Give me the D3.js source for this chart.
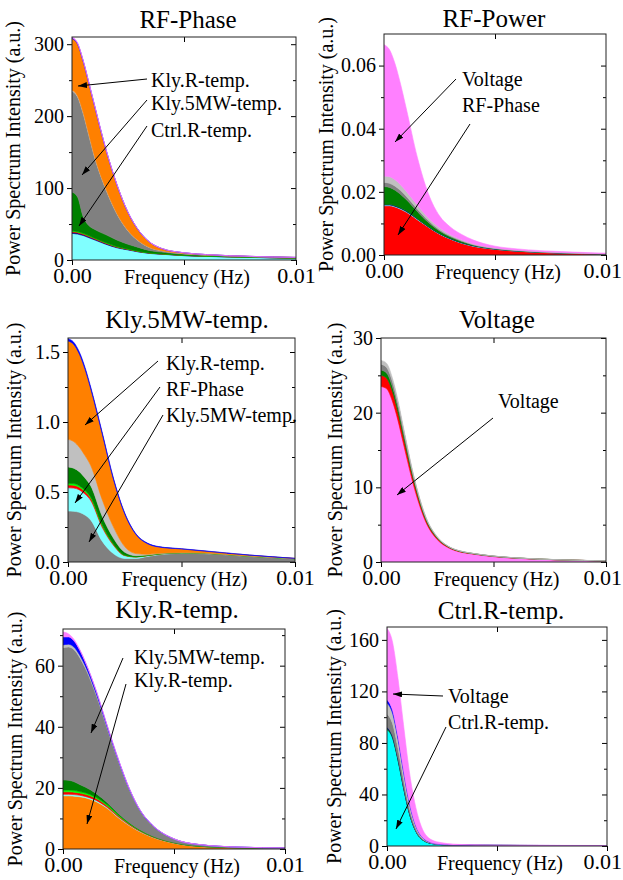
<!DOCTYPE html>
<html>
<head>
<meta charset="utf-8">
<script src="https://cdn.jsdelivr.net/npm/d3@7"></script>
<style>
body { margin: 0; background: #fff; }
text { font-family: "Liberation Serif", "Times New Roman", serif; fill: #000; }
</style>
</head>
<body>
<svg id="chart" width="623" height="880"></svg>
<script>
// frequency grid (Hz) shared by all spectra
const freq = [0, 0.00025, 0.0005, 0.00075, 0.001, 0.0015, 0.002, 0.0025, 0.003, 0.0035, 0.004, 0.005, 0.006, 0.008, 0.01];
const xTickLabels = ["0.00", "0.01"];

// RF-Phase spectrum, contributions stacked bottom -> top
const rfPhaseKeys = ["cyan", "navy", "red", "lime", "green", "gray", "silver", "orange", "blue", "pink"];
const rfPhaseLayers = [
  [37, 36, 34, 31, 28, 22, 17, 14, 11, 9, 8, 6, 5, 3.5, 2.5],
  [1.5, 1.5, 1.4, 1.3, 1.2, 1.0, 0.8, 0.6, 0.5, 0.4, 0.3, 0.25, 0.2, 0.15, 0.1],
  [1.2, 1.2, 1.1, 1.0, 0.9, 0.8, 0.6, 0.5, 0.4, 0.3, 0.25, 0.2, 0.15, 0.1, 0.1],
  [0.8, 0.8, 0.7, 0.7, 0.6, 0.5, 0.4, 0.3, 0.3, 0.2, 0.2, 0.15, 0.1, 0.1, 0.05],
  [54, 48, 23, 14, 12, 11, 9, 6.5, 5, 3, 2.2, 1.4, 1, 0.6, 0.4],
  [140, 139, 143.3, 125.7, 101.1, 63.7, 36.4, 18.5, 8.4, 3.8, 1.85, 0.9, 0.5, 0.3, 0.2],
  [1.5, 1.5, 1.5, 1.3, 1.2, 1, 0.8, 0.6, 0.4, 0.3, 0.2, 0.1, 0.05, 0.05, 0.05],
  [72, 72, 71, 71, 70, 55, 40, 25, 14, 7, 3, 1, 0.5, 0.2, 0.2],
  [1, 1, 0.9, 0.8, 0.7, 0.5, 0.35, 0.25, 0.15, 0.1, 0.08, 0.05, 0.04, 0.03, 0.02],
  [1, 0.8, 0.6, 0.5, 0.4, 0.3, 0.2, 0.15, 0.1, 0.08, 0.06, 0.05, 0.04, 0.03, 0.02]
];

// RF-Power
const rfPowerKeys = ["red", "cyan", "navy", "green", "gray", "silver", "pink"];
const rfPowerLayers = [
  [0.0156, 0.0156, 0.0152, 0.0145, 0.0136, 0.0112, 0.0088, 0.0066, 0.005, 0.0037, 0.0028, 0.0018, 0.0012, 0.0006, 0.0003],
  [0.0002, 0.0002, 0.0002, 0.0002, 0.0002, 0.0002, 0.0001, 0.0001, 0.0001, 0.0001, 0.0001, 0.00005, 0.00003, 0.00002, 0.00001],
  [0.0002, 0.0002, 0.0002, 0.0002, 0.0002, 0.0001, 0.0001, 0.0001, 0.0001, 0.0001, 0.0001, 0.00005, 0.00003, 0.00002, 0.00001],
  [0.0057, 0.0054, 0.0049, 0.0043, 0.0036, 0.0023, 0.0013, 0.0008, 0.0005, 0.0004, 0.0002, 0.0001, 0.0001, 0.00005, 0.00003],
  [0.0013, 0.0013, 0.0013, 0.0012, 0.001, 0.0008, 0.0006, 0.0004, 0.0003, 0.0002, 0.00015, 0.0001, 0.00008, 0.00004, 0.00002],
  [0.002, 0.0021, 0.002, 0.0018, 0.0016, 0.0012, 0.0008, 0.0006, 0.0004, 0.0003, 0.00025, 0.0001, 0.0001, 0.00005, 0.00002],
  [0.0416, 0.0402, 0.0367, 0.0318, 0.0263, 0.0152, 0.0077, 0.0038, 0.0024, 0.0017, 0.0012, 0.0006, 0.0004, 0.0003, 0.0002]
];

// Kly.5MW-temp.
const kly5Keys = ["gray", "cyan", "red", "lime", "green", "silver", "orange", "blue"];
const kly5Layers = [
  [0.364, 0.362, 0.355, 0.335, 0.3, 0.15, 0.06, 0.025, 0.025, 0.04, 0.052, 0.062, 0.06, 0.04, 0.022],
  [0.166, 0.166, 0.16, 0.15, 0.14, 0.1, 0.06, 0.02, 0.01, 0.005, 0.004, 0.003, 0.002, 0.001, 0.001],
  [0.02, 0.02, 0.019, 0.018, 0.016, 0.012, 0.007, 0.003, 0.002, 0.001, 0.001, 0.001, 0.001, 0, 0],
  [0.012, 0.012, 0.011, 0.01, 0.009, 0.007, 0.004, 0.002, 0.001, 0.001, 0.001, 0, 0, 0, 0],
  [0.117, 0.11, 0.1, 0.087, 0.08, 0.06, 0.04, 0.02, 0.007, 0.003, 0.002, 0.001, 0.001, 0.001, 0.001],
  [0.197, 0.19, 0.175, 0.16, 0.145, 0.12, 0.08, 0.04, 0.015, 0.005, 0.002, 0.001, 0.001, 0.001, 0.001],
  [0.703, 0.694, 0.665, 0.616, 0.547, 0.47, 0.34, 0.233, 0.135, 0.076, 0.045, 0.025, 0.013, 0.006, 0.001],
  [0.016, 0.016, 0.015, 0.014, 0.013, 0.011, 0.009, 0.007, 0.005, 0.004, 0.003, 0.002, 0.002, 0.001, 0]
];

// Voltage
const voltKeys = ["pink", "red", "green", "gray", "silver"];
const voltLayers = [
  [23.5, 23.2, 21.6, 19, 15.8, 9.7, 5.3, 3.0, 1.9, 1.35, 1.1, 0.72, 0.5, 0.27, 0.14],
  [1.5, 1.4, 1.3, 1.1, 0.9, 0.6, 0.3, 0.17, 0.1, 0.07, 0.05, 0.04, 0.03, 0.015, 0.005],
  [0.7, 0.7, 0.65, 0.6, 0.5, 0.3, 0.15, 0.08, 0.04, 0.03, 0.02, 0.015, 0.01, 0.005, 0.002],
  [0.8, 0.75, 0.7, 0.6, 0.5, 0.25, 0.15, 0.08, 0.04, 0.03, 0.02, 0.015, 0.01, 0.005, 0.002],
  [0.5, 0.55, 0.45, 0.4, 0.3, 0.15, 0.1, 0.07, 0.02, 0.02, 0.01, 0.01, 0.01, 0.005, 0.002]
];

// Kly.R-temp.
const klyRKeys = ["orange", "cyan", "red", "lime", "green", "gray", "silver", "blue", "pink"];
const klyRLayers = [
  [17.4, 17.4, 17.3, 17.1, 16.8, 15.5, 13.3, 10.2, 7.6, 5.5, 3.9, 1.9, 0.9, 0.35, 0.2],
  [0.5, 0.5, 0.5, 0.5, 0.4, 0.4, 0.3, 0.25, 0.2, 0.15, 0.1, 0.05, 0.03, 0.01, 0.005],
  [0.8, 0.8, 0.8, 0.7, 0.7, 0.6, 0.5, 0.4, 0.3, 0.2, 0.15, 0.08, 0.04, 0.02, 0.01],
  [0.6, 0.6, 0.6, 0.5, 0.5, 0.4, 0.35, 0.3, 0.2, 0.15, 0.1, 0.05, 0.03, 0.01, 0.005],
  [3.3, 3.2, 2.8, 2.3, 1.9, 1.2, 0.7, 0.4, 0.25, 0.15, 0.1, 0.05, 0.03, 0.01, 0.005],
  [43.3, 43.6, 43.2, 41.6, 39.0, 32.2, 24.1, 17.0, 10.6, 6.0, 3.5, 1.1, 0.5, 0.18, 0.11],
  [0.9, 0.9, 0.85, 0.8, 0.7, 0.5, 0.35, 0.25, 0.15, 0.1, 0.06, 0.03, 0.02, 0.01, 0.005],
  [2.6, 2.4, 2.0, 1.6, 1.2, 0.8, 0.5, 0.35, 0.25, 0.15, 0.1, 0.05, 0.03, 0.01, 0.005],
  [1.6, 1.0, 0.5, 0.3, 0.2, 0.15, 0.1, 0.08, 0.06, 0.04, 0.03, 0.02, 0.01, 0.005, 0.003]
];

// Ctrl.R-temp.
const ctrlKeys = ["aqua", "green", "navy", "gray", "silver", "blue", "pink"];
const ctrlLayers = [
  [90.4, 83.7, 66.4, 45.1, 26.2, 6.5, 2.0, 1.0, 0.7, 0.6, 0.5, 0.45, 0.4, 0.35, 0.3],
  [1, 0.95, 0.75, 0.5, 0.3, 0.08, 0.03, 0.02, 0.01, 0.01, 0.01, 0.01, 0.01, 0.01, 0.01],
  [1, 0.95, 0.75, 0.5, 0.3, 0.07, 0.02, 0.01, 0.01, 0.01, 0, 0, 0, 0, 0],
  [10, 9.5, 8, 6, 4, 1.2, 0.3, 0.1, 0.05, 0.03, 0.02, 0.01, 0.01, 0.01, 0],
  [8.6, 8.1, 7, 5.5, 3.7, 1.1, 0.3, 0.1, 0.05, 0.03, 0.02, 0.01, 0.01, 0.01, 0],
  [2.5, 2.3, 1.9, 1.4, 0.9, 0.3, 0.1, 0.05, 0.03, 0.02, 0.02, 0.01, 0.01, 0, 0],
  [55.5, 52.9, 45.2, 35.2, 24.2, 8.75, 2.25, 1.22, 0.65, 0.4, 0.33, 0.2, 0.15, 0.1, 0.07]
];

const colours = {
  cyan: "#80ffff", aqua: "#00ffff", navy: "#000080", red: "#ff0000", lime: "#00ff00",
  green: "#008000", gray: "#808080", silver: "#c0c0c0", orange: "#ff8000",
  blue: "#0000ff", pink: "#ff80ff"
};

// layout of the six panels
let panels = [
  {title: "RF-Phase", keys: rfPhaseKeys, layers: rfPhaseLayers, x0: 72, x1: 296, y0: 37, y1: 260,
   ymax: 310, major: [0, 100, 200, 300], minor: [50, 150, 250], fmt: d3.format("d"),
   titleX: 188, titleY: 28, ylabX: 19.5,
   notes: [
     {t: "Kly.R-temp.", x: 151, y: 87, from: [147, 79], to: [78, 86]},
     {t: "Kly.5MW-temp.", x: 151, y: 110, from: [147, 100], to: [82, 175]},
     {t: "Ctrl.R-temp.", x: 151, y: 137, from: [147, 126], to: [79, 226]}
   ]},
  {title: "RF-Power", keys: rfPowerKeys, layers: rfPowerLayers, x0: 384, x1: 606, y0: 34, y1: 255,
   ymax: 0.07, major: [0, 0.02, 0.04, 0.06], minor: [0.01, 0.03, 0.05], fmt: d3.format(".2f"),
   titleX: 494, titleY: 27, ylabX: 333,
   notes: [
     {t: "Voltage", x: 462, y: 86, from: [456, 79], to: [395, 142]},
     {t: "RF-Phase", x: 462, y: 112, from: [470, 124], to: [398, 235]}
   ]},
  {title: "Kly.5MW-temp.", keys: kly5Keys, layers: kly5Layers, x0: 68, x1: 295, y0: 338, y1: 562,
   ymax: 1.6, major: [0, 0.5, 1.0, 1.5], minor: [0.25, 0.75, 1.25], fmt: d3.format(".1f"),
   titleX: 187, titleY: 328, ylabX: 21,
   notes: [
     {t: "Kly.R-temp.", x: 166, y: 370, from: [158, 361], to: [85, 425]},
     {t: "RF-Phase", x: 166, y: 396, from: [160, 387], to: [75, 503]},
     {t: "Kly.5MW-temp.", x: 166, y: 422, from: [163, 415], to: [89, 542]}
   ]},
  {title: "Voltage", keys: voltKeys, layers: voltLayers, x0: 381, x1: 606, y0: 338, y1: 562,
   ymax: 30, major: [0, 10, 20, 30], minor: [5, 15, 25], fmt: d3.format("d"),
   titleX: 497, titleY: 328, ylabX: 342,
   notes: [
     {t: "Voltage", x: 498, y: 408, from: [493, 418], to: [397, 495]}
   ]},
  {title: "Kly.R-temp.", keys: klyRKeys, layers: klyRLayers, x0: 63, x1: 285, y0: 629, y1: 849,
   ymax: 72, major: [0, 20, 40, 60], minor: [10, 30, 50, 70], fmt: d3.format("d"),
   titleX: 177, titleY: 618, ylabX: 22,
   notes: [
     {t: "Kly.5MW-temp.", x: 134, y: 664, from: [123, 658], to: [91, 733]},
     {t: "Kly.R-temp.", x: 134, y: 687, from: [126, 684], to: [87, 824]}
   ]},
  {title: "Ctrl.R-temp.", keys: ctrlKeys, layers: ctrlLayers, x0: 387, x1: 607, y0: 627, y1: 846,
   ymax: 170, major: [0, 40, 80, 120, 160], minor: [20, 60, 100, 140], fmt: d3.format("d"),
   titleX: 501, titleY: 619, ylabX: 341,
   notes: [
     {t: "Voltage", x: 448, y: 703, from: [443, 696], to: [393, 694]},
     {t: "Ctrl.R-temp.", x: 448, y: 729, from: [446, 727], to: [396, 829]}
   ]}
];

let svg = d3.select("#chart");

svg.append("defs").append("marker")
    .attr("id", "head")
    .attr("markerUnits", "userSpaceOnUse")
    .attr("markerWidth", 9).attr("markerHeight", 6)
    .attr("refX", 9).attr("refY", 3)
    .attr("orient", "auto")
  .append("path")
    .attr("d", "M0,0 L9,3 L0,6 Z")
    .attr("fill", "#000");

panels.forEach((p, i) => {
  let x = d3.scaleLinear().domain([0, 0.01]).range([p.x0, p.x1]);
  let y = d3.scaleLinear().domain([0, p.ymax]).range([p.y1, p.y0]);

  // table rows: one per frequency
  let rows = freq.map((f, j) => {
    let r = {f: f};
    p.keys.forEach((k, n) => r[k] = p.layers[n][j]);
    return r;
  });
  let series = d3.stack().keys(p.keys)(rows);

  let area = d3.area()
      .curve(d3.curveMonotoneX)
      .x(d => x(d.data.f))
      .y0(d => y(d[0]))
      .y1(d => y(d[1]));

  let g = svg.append("g");

  g.append("clipPath").attr("id", "clip" + i)
    .append("rect")
      .attr("x", p.x0).attr("y", p.y0)
      .attr("width", p.x1 - p.x0).attr("height", p.y1 - p.y0);

  g.append("g").attr("clip-path", `url(#clip${i})`)
    .selectAll("path")
    .data(series)
    .join("path")
      .attr("d", area)
      .attr("fill", d => colours[d.key])
      .attr("stroke", d => colours[d.key])
      .attr("stroke-width", 0.6);

  // axes: outward ticks left/bottom, inward mirrors top/right
  let left = g.append("g").attr("transform", `translate(${p.x0},0)`)
      .call(d3.axisLeft(y).tickValues(p.major).tickSize(5).tickPadding(3).tickFormat(p.fmt));
  left.selectAll("text").style("font-size", "20px").style("font-family", "'Liberation Serif', serif");
  g.append("g").attr("transform", `translate(${p.x0},0)`)
      .call(d3.axisLeft(y).tickValues(p.minor).tickSize(3).tickFormat(""));
  g.append("g").attr("transform", `translate(${p.x1},0)`)
      .call(d3.axisRight(y).tickValues(p.major).tickSize(-5).tickFormat(""));
  g.append("g").attr("transform", `translate(${p.x1},0)`)
      .call(d3.axisRight(y).tickValues(p.minor).tickSize(-3).tickFormat(""));

  let bottom = g.append("g").attr("transform", `translate(0,${p.y1})`)
      .call(d3.axisBottom(x).tickValues([0, 0.005, 0.01]).tickSize(5).tickPadding(2)
        .tickFormat(d => d === 0 ? xTickLabels[0] : d === 0.01 ? xTickLabels[1] : ""));
  bottom.selectAll("text").style("font-size", "22px").style("font-family", "'Liberation Serif', serif");
  // keep the right-hand label inside the page
  bottom.selectAll("text").each(function() {
    let b = this.getBoundingClientRect();
    if (b.right > 622) d3.select(this).attr("dx", -(b.right - 622));
  });
  g.append("g").attr("transform", `translate(0,${p.y0})`)
      .call(d3.axisTop(x).tickValues([0.005]).tickSize(-5).tickFormat(""));

  g.selectAll(".domain").remove();
  g.selectAll(".tick line").attr("stroke", "#000");

  g.append("rect")
      .attr("x", p.x0).attr("y", p.y0)
      .attr("width", p.x1 - p.x0).attr("height", p.y1 - p.y0)
      .attr("fill", "none")
      .attr("stroke", "#222")
      .attr("stroke-width", 1);

  // titles and axis labels
  g.append("text")
      .attr("x", p.titleX).attr("y", p.titleY)
      .attr("text-anchor", "middle")
      .style("font-size", "25px")
      .text(p.title);

  g.append("text")
      .attr("x", (p.x0 + p.x1) / 2 + 3).attr("y", p.y1 + 24)
      .attr("text-anchor", "middle")
      .attr("textLength", 126)
      .attr("lengthAdjust", "spacingAndGlyphs")
      .style("font-size", "20px")
      .text("Frequency (Hz)");

  g.append("text")
      .attr("transform", `translate(${p.ylabX},${(p.y0 + p.y1) / 2}) rotate(-90)`)
      .attr("text-anchor", "middle")
      .style("font-size", "20px")
      .text("Power Spectrum Intensity (a.u.)");

  // annotation labels with arrows
  g.selectAll(".note")
    .data(p.notes)
    .join("text")
      .attr("class", "note")
      .attr("x", d => d.x).attr("y", d => d.y)
      .style("font-size", "20px")
      .text(d => d.t);

  g.selectAll(".arrow")
    .data(p.notes)
    .join("line")
      .attr("class", "arrow")
      .attr("x1", d => d.from[0]).attr("y1", d => d.from[1])
      .attr("x2", d => d.to[0]).attr("y2", d => d.to[1])
      .attr("stroke", "#000")
      .attr("stroke-width", 1)
      .attr("marker-end", "url(#head)");
});
</script>
</body>
</html>
